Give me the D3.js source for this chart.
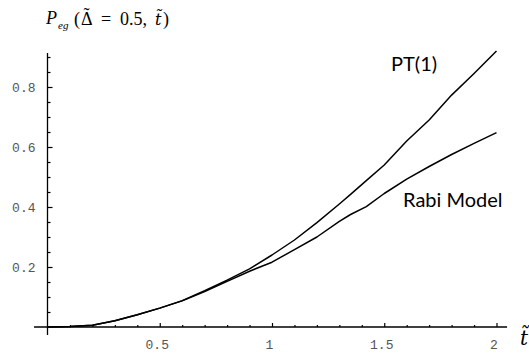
<!DOCTYPE html>
<html>
<head>
<meta charset="utf-8">
<script src="https://cdn.jsdelivr.net/npm/d3@7"></script>
<style>
  body { margin: 0; background: #fff; }
  svg { display: block; }
</style>
</head>
<body>
<svg id="chart" width="529" height="359"></svg>
<script>
// t values (time, scaled)
const tValues = [0, 0.1, 0.2, 0.3, 0.4, 0.5, 0.6, 0.7, 0.8, 0.9, 1.0, 1.1, 1.2, 1.3, 1.35, 1.42, 1.5, 1.6, 1.7, 1.8, 1.9, 2.0];
// PT(1) curve
const ptValues = [0, 0.002, 0.006, 0.021, 0.041, 0.063, 0.088, 0.121, 0.156, 0.194, 0.24, 0.29, 0.348, 0.41, 0.442, 0.488, 0.54, 0.62, 0.69, 0.773, 0.845, 0.92];
// Rabi model curve
const rabiValues = [0, 0.002, 0.006, 0.021, 0.041, 0.063, 0.087, 0.118, 0.152, 0.186, 0.216, 0.258, 0.3, 0.352, 0.375, 0.401, 0.445, 0.493, 0.535, 0.575, 0.612, 0.648];

const xMajor = [0.5, 1, 1.5, 2];
const xMinor = [0.1, 0.2, 0.3, 0.4, 0.6, 0.7, 0.8, 0.9, 1.1, 1.2, 1.3, 1.4, 1.6, 1.7, 1.8, 1.9];
const yMajor = [0.2, 0.4, 0.6, 0.8];
const yMinor = [0.05, 0.1, 0.15, 0.25, 0.3, 0.35, 0.45, 0.5, 0.55, 0.65, 0.7, 0.75, 0.85, 0.9];

const vis = d3.select('#chart');

const xScale = d3.scaleLinear().domain([0, 2]).range([47.5, 496.5]);
const yScale = d3.scaleLinear().domain([0, 0.9]).range([327, 57]);

//x axis line, runs a bit past both ends
vis.append('line')
  .attr('x1', xScale(-0.06)).attr('x2', xScale(2.047))
  .attr('y1', yScale(0)).attr('y2', yScale(0))
  .attr('stroke', '#000').attr('stroke-width', 1.3);

//y axis line
vis.append('line')
  .attr('x1', xScale(0)).attr('x2', xScale(0))
  .attr('y1', yScale(-0.027)).attr('y2', yScale(0.913))
  .attr('stroke', '#000').attr('stroke-width', 1.3);

//x ticks point up
const xMajAxis = d3.axisBottom(xScale).tickValues(xMajor).tickSize(-4).tickSizeOuter(0)
  .tickPadding(13).tickFormat(d => d3.format('')(d));
const gx = vis.append('g').attr('transform', 'translate(0,' + yScale(0) + ')').call(xMajAxis);
gx.select('.domain').remove();
gx.selectAll('text').attr('dx', -3);

const gxm = vis.append('g').attr('transform', 'translate(0,' + yScale(0) + ')')
  .call(d3.axisBottom(xScale).tickValues(xMinor).tickSize(-2).tickFormat(''));
gxm.select('.domain').remove();

//y ticks point right
const gy = vis.append('g').attr('transform', 'translate(' + xScale(0) + ',0)')
  .call(d3.axisLeft(yScale).tickValues(yMajor).tickSize(-5).tickPadding(12).tickFormat(d3.format('.1f')));
gy.select('.domain').remove();

const gym = vis.append('g').attr('transform', 'translate(' + xScale(0) + ',0)')
  .call(d3.axisLeft(yScale).tickValues(yMinor).tickSize(-3).tickFormat(''));
gym.select('.domain').remove();

vis.selectAll('.tick line').attr('stroke', '#000').attr('stroke-width', 1.2);
vis.selectAll('.tick text')
  .style('font-family', '"Liberation Mono", "DejaVu Sans Mono", monospace')
  .style('font-size', '13px')
  .attr('fill', '#555');

//curves
const lineGen = d3.line()
  .x((d, i) => xScale(tValues[i]))
  .y(d => yScale(d));

[ptValues, rabiValues].forEach(vals => {
  vis.append('path')
    .attr('d', lineGen(vals))
    .attr('fill', 'none')
    .attr('stroke', '#000')
    .attr('stroke-width', 1.5)
    .attr('stroke-linejoin', 'round');
});

//curve labels
vis.append('text')
  .attr('x', 391).attr('y', 71)
  .attr('text-anchor', 'start')
  .style('font-family', 'Lato, "Open Sans", sans-serif')
  .style('font-size', '20px')
  .text('PT(1)');

vis.append('text')
  .attr('x', 403).attr('y', 207)
  .attr('text-anchor', 'start')
  .style('font-family', 'Lato, "Open Sans", sans-serif')
  .style('font-size', '20px')
  .text('Rabi Model');

//title, pieces placed one by one like the typeset original
// DejaVu Serif places the combining tilde over the t properly
const serif = '"Liberation Serif", "DejaVu Serif", serif';
const dvSerif = '"DejaVu Serif", serif';
const titleParts = [
  { s: 'P', x: 46, y: 24, size: 18, italic: true, font: serif },
  { s: 'eg', x: 58, y: 29, size: 11, italic: true, font: serif },
  { s: '(', x: 74, y: 25, size: 18, italic: false, font: serif },
  { s: '=', x: 101, y: 25, size: 18, italic: false, font: serif },
  { s: '0.5,', x: 120, y: 25, size: 18, italic: false, font: serif },
  { s: 't\u0303', x: 155, y: 25, size: 16, italic: true, font: dvSerif },
  { s: ')', x: 163, y: 25, size: 18, italic: false, font: serif }
];
vis.append('g').selectAll('text').data(titleParts).join('text')
  .attr('x', d => d.x).attr('y', d => d.y)
  .attr('text-anchor', 'start')
  .style('font-family', d => d.font)
  .style('font-size', d => d.size + 'px')
  .style('font-style', d => d.italic ? 'italic' : 'normal')
  .text(d => d.s);

//Delta with tilde over it, in one text
const delta = vis.append('text')
  .attr('x', 81).attr('y', 25)
  .style('font-family', serif)
  .style('font-size', '18px');
delta.append('tspan').text('\u0394');
delta.append('tspan').attr('dx', -9).attr('dy', -4.5).text('\u02DC');

//x axis label
vis.append('text')
  .attr('x', 520).attr('y', 345)
  .attr('text-anchor', 'start')
  .style('font-family', dvSerif)
  .style('font-style', 'italic')
  .style('font-size', '20px')
  .text('t\u0303');
</script>
</body>
</html>
